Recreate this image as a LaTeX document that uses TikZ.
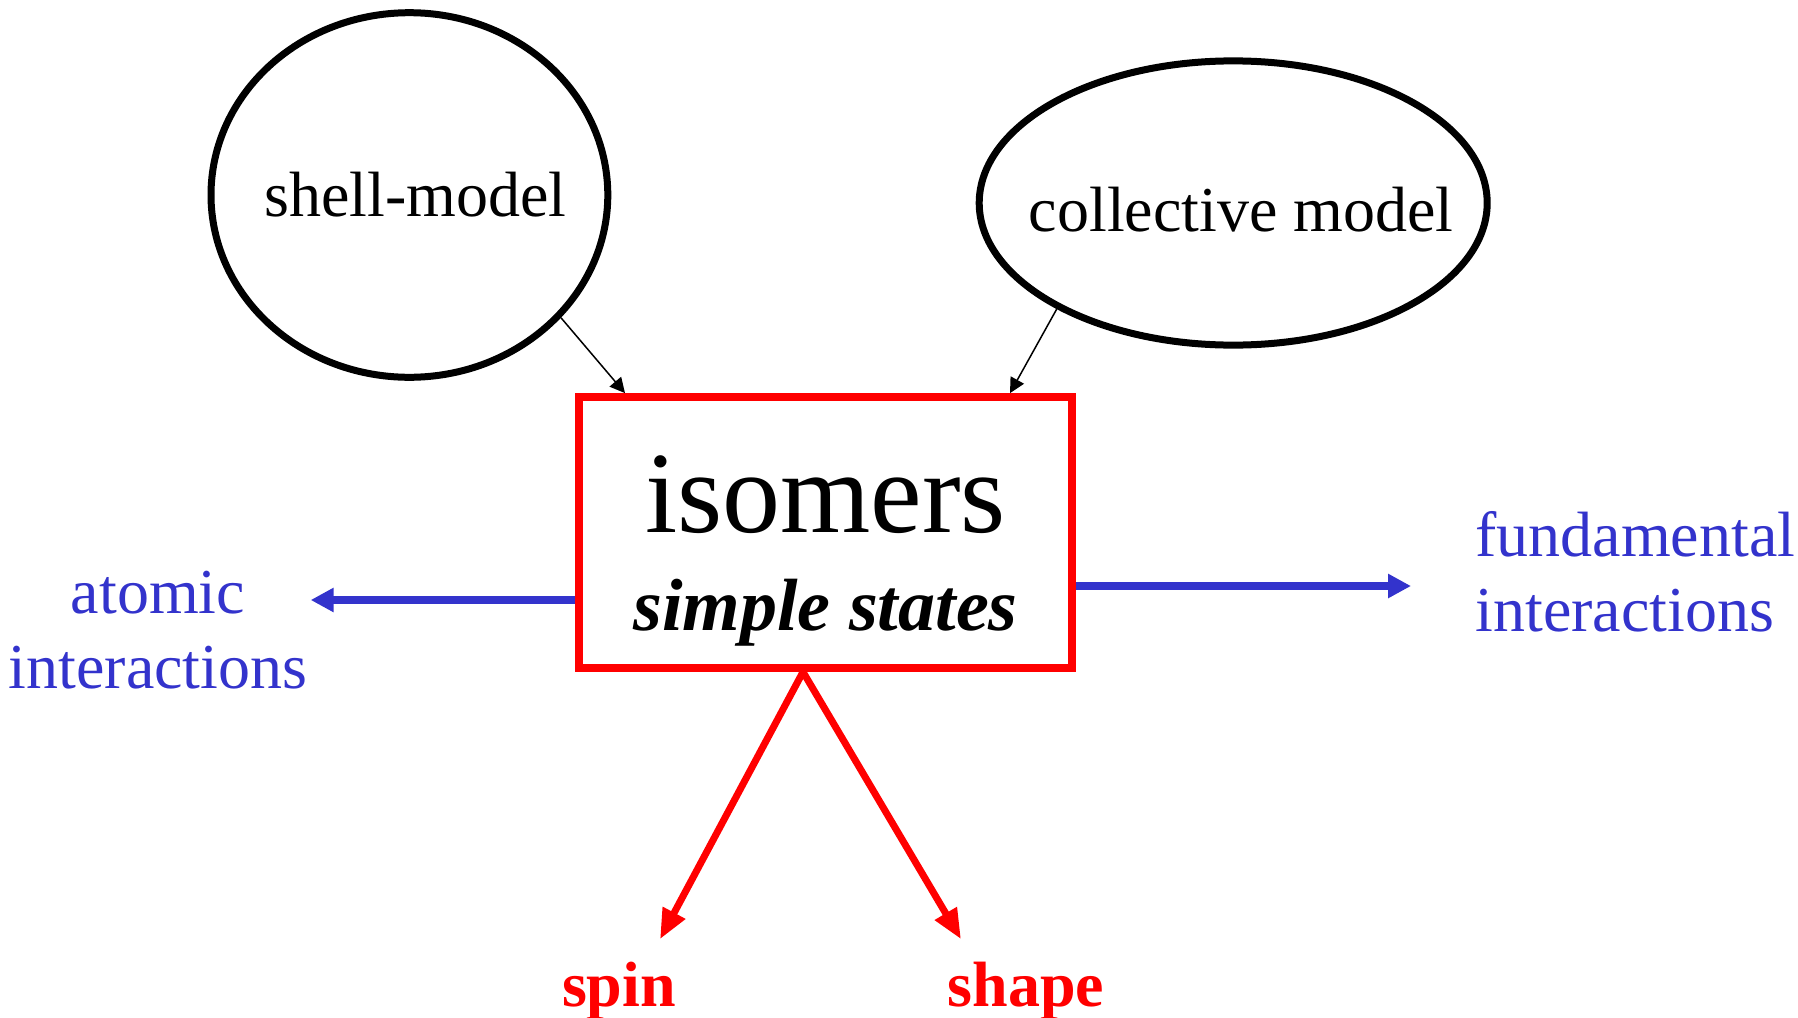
\documentclass[tikz,border=0pt]{standalone}
\usepackage{fontspec}
\setmainfont{Liberation Serif}
\usepackage{tikz}
\usetikzlibrary{arrows.meta, positioning, shapes.geometric}
\definecolor{isored}{HTML}{FF0000}
\definecolor{isoblue}{HTML}{3333CC}

\begin{document}
\begin{tikzpicture}[
    x=0.5pt, y=-0.5pt,
    model/.style={ellipse, draw, line width=3.5pt, inner sep=0pt, font=\fontsize{32}{40}\selectfont},
    isobox/.style={rectangle, draw=isored, line width=4pt, minimum width=246.8pt, minimum height=135.4pt, align=center, inner sep=0pt, font=\fontsize{58}{49}\selectfont},
    link/.style={text=isoblue, inner sep=0pt, font=\fontsize{32}{37.5}\selectfont},
    prop/.style={text=isored, inner sep=0pt, font=\fontsize{32}{38}\selectfont\bfseries},
    thinarrow/.style={-{Triangle[length=7.5pt, width=7.5pt]}, line width=0.75pt},
    bluearrow/.style={-{Triangle[length=11.5pt, width=11.5pt]}, line width=4pt, isoblue},
    redarrow/.style={-{Triangle[length=15pt, width=12pt]}, line width=3.5pt, isored},
]
    \useasboundingbox (0,0) rectangle (1798,1017);

    % Models
    \node[model, minimum width=198.4pt, minimum height=182.3pt] (shell) at (409.4,195) {\makebox[0pt]{\hspace{6pt}shell-model}};
    \node[model, minimum width=254pt, minimum height=142.1pt, text height=28.5pt, text depth=0pt] (collective) at (1233.2,203) {\makebox[0pt]{\hspace{8pt}collective model}};

    % Isomers
    \node[isobox] (box) at (825.5,532.5) {\rule{0pt}{56.5pt}isomers\\\fontsize{37}{49}\selectfont\bfseries\itshape simple states};

    % Interactions
    \node[link, align=center] (atomic) at (158,630.5) {atomic\\interactions};
    \node[link, align=left, anchor=west] (fund) at (1475,571.5) {fundamental\\interactions};

    % Properties
    \node[prop, anchor=base] (spin) at (619,1006) {spin};
    \node[prop, anchor=base] (shape) at (1026,1006) {shape};

    % Arrows
    \draw[thinarrow] (shell.-39) -- ([xshift=-100.25pt]box.north);
    \draw[thinarrow] (collective.-149) -- ([xshift=92.25pt]box.north);
    \draw[bluearrow] ([yshift=-33.75pt]box.west) -- ([xshift=1.5pt, yshift=15.25pt]atomic.east);
    \draw[bluearrow] ([yshift=-26.75pt]box.east) -- ([xshift=-32pt, yshift=-7.25pt]fund.west);
    \draw[redarrow] ([xshift=-11.25pt]box.south) -- ([xshift=20.5pt, yshift=11pt]spin.north);
    \draw[redarrow] ([xshift=-11.25pt]box.south) -- ([xshift=-32.5pt, yshift=11pt]shape.north);
\end{tikzpicture}
\end{document}
